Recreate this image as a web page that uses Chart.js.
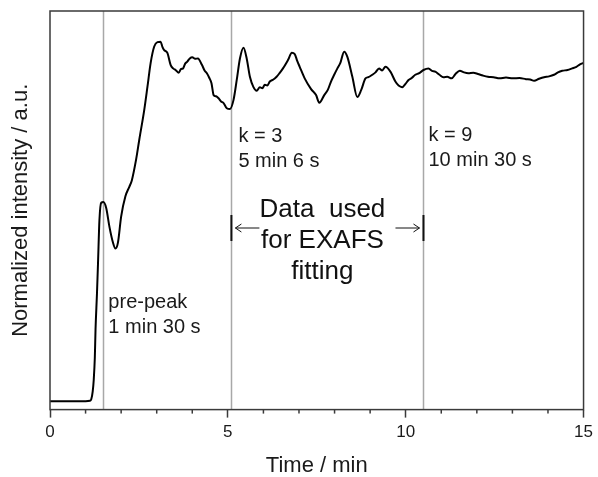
<!DOCTYPE html>
<html>
<head>
<meta charset="utf-8">
<title>Normalized intensity vs time</title>
<script src="https://cdn.jsdelivr.net/npm/chart.js@4/dist/chart.umd.min.js"></script>
<style>
  html, body { margin: 0; padding: 0; background: #fff; }
  #wrap { width: 598px; height: 477px; position: relative; }
</style>
</head>
<body>
<div id="wrap"><canvas id="myChart"></canvas></div>
<script>
// Time axis (min) and normalized intensity (a.u., 0-100 scale)
const times = [
  0, 0.5, 1.0, 1.12, 1.16, 1.2, 1.23, 1.26, 1.28, 1.32, 1.35, 1.39, 1.44, 1.5,
  1.58, 1.67, 1.77, 1.84, 1.91, 2.0, 2.12, 2.23, 2.3, 2.42, 2.51, 2.65, 2.74,
  2.83, 2.93, 3.02, 3.11, 3.16, 3.21, 3.3, 3.39, 3.46, 3.53, 3.62, 3.68, 3.74,
  3.8, 3.86, 3.93, 4.0, 4.08, 4.16, 4.27, 4.35, 4.41, 4.48, 4.54, 4.6, 4.67,
  4.74, 4.81, 4.88, 4.97, 5.06, 5.16, 5.25, 5.34, 5.44, 5.53, 5.62, 5.72, 5.81,
  5.9, 5.97, 6.04, 6.11, 6.18, 6.28, 6.37, 6.46, 6.55, 6.69, 6.8, 6.88, 6.95,
  7.02, 7.16, 7.34, 7.48, 7.57, 7.71, 7.81, 7.9, 7.99, 8.08, 8.16, 8.27, 8.36,
  8.5, 8.64, 8.75, 8.87, 8.95, 9.06, 9.15, 9.25, 9.34, 9.43, 9.57, 9.71, 9.8,
  9.9, 10.0, 10.08, 10.17, 10.27, 10.38, 10.5, 10.64, 10.74, 10.83, 10.95,
  11.06, 11.17, 11.29, 11.4, 11.52, 11.64, 11.76, 11.9, 12.03, 12.17, 12.31,
  12.47, 12.64, 12.82, 13.01, 13.2, 13.38, 13.5, 13.61, 13.75, 13.89, 14.03,
  14.17, 14.28, 14.4, 14.55, 14.68, 14.8, 14.9, 15.0
];
const intensity = [
  2.1, 2.1, 2.1, 2.2, 2.6, 4.5, 7.5, 13, 20.1, 29, 36.8, 47.6, 51.9, 52.1,
  50.6, 45.9, 41.9, 40.4, 41.9, 48.4, 53.5, 55.9, 57.5, 62.7, 67.7, 75.2, 81.0,
  87.0, 91.1, 92.2, 92.3, 91.0, 90.2, 89.5, 86.5, 85.6, 85.2, 84.5, 85.4, 85.6,
  86.8, 87.3, 88.1, 88.4, 88.0, 88.1, 86.5, 85.0, 84.4, 83.2, 81.9, 78.9, 78.6,
  78.1, 77.3, 76.9, 75.6, 75.4, 77.7, 82.7, 88.1, 90.8, 88.1, 83.5, 80.9, 80.0,
  80.9, 80.6, 81.5, 81.3, 82.3, 82.8, 83.5, 84.5, 85.6, 87.7, 89.5, 89.2, 87.5,
  86.0, 83.1, 80.4, 78.9, 77.0, 78.9, 80.2, 82.3, 84.0, 85.6, 86.9, 89.8, 88.5,
  83.5, 78.4, 80.2, 83.1, 83.4, 84.0, 84.6, 85.6, 85.1, 86.0, 84.8, 82.3, 81.3,
  80.9, 81.8, 82.7, 83.2, 84.0, 84.4, 85.2, 85.6, 85.0, 84.8, 84.0,
  83.4, 83.5, 83.1, 84.2, 85.0, 84.6, 84.4, 84.5, 84.2, 83.8, 83.5,
  83.4, 83.1, 83.3, 83.1, 83.2, 82.9, 82.8, 82.5, 83.0, 83.4, 83.6,
  84.0, 84.6, 85.0, 85.2, 85.6, 86.0, 86.6, 87.0
];

// Marked times (min) and their labels
const markTimes = [1.5, 5.1, 10.5];
const markLabels = [
  ['pre-peak', '1 min 30 s'],
  ['k = 3', '5 min 6 s'],
  ['k = 9', '10 min 30 s']
];
const fitLabel = ['Data  used', 'for EXAFS', 'fitting'];
const xTicks = [0, 5, 10, 15];

const FONT = "'Liberation Sans', Arial, Helvetica, sans-serif";
Chart.defaults.font.family = FONT;

const points = times.map((t, i) => ({ x: t, y: intensity[i] }));

// Frame, marker lines, minor ticks and text annotations
const decorations = {
  id: 'decorations',
  beforeDatasetsDraw(chart) {
    const { ctx, chartArea: a, scales: { x } } = chart;
    ctx.save();
    ctx.strokeStyle = '#a8a8a8';
    ctx.lineWidth = 1.5;
    markTimes.forEach(t => {
      const px = Math.round(x.getPixelForValue(t)) + 0.5;
      ctx.beginPath();
      ctx.moveTo(px, a.top);
      ctx.lineTo(px, a.bottom);
      ctx.stroke();
    });
    ctx.restore();
  },
  afterDraw(chart) {
    const { ctx, chartArea: a, scales: { x } } = chart;
    ctx.save();

    // box around the plot
    ctx.strokeStyle = '#3a3a3a';
    ctx.lineWidth = 1.5;
    ctx.strokeRect(a.left, a.top, a.right - a.left, a.bottom - a.top);

    // short minor ticks
    ctx.lineWidth = 1.5;
    for (let v = 0; v <= 15; v++) {
      if (xTicks.includes(v)) continue;
      const px = x.getPixelForValue(v);
      ctx.beginPath();
      ctx.moveTo(px, a.bottom);
      ctx.lineTo(px, a.bottom + 4);
      ctx.stroke();
    }

    // y axis title
    ctx.fillStyle = '#1a1a1a';
    ctx.font = '22px ' + FONT;
    ctx.textAlign = 'center';
    ctx.textBaseline = 'middle';
    ctx.translate(21, (a.top + a.bottom) / 2);
    ctx.rotate(-Math.PI / 2);
    ctx.fillText('Normalized intensity / a.u.', 0, 0);
    ctx.setTransform(1, 0, 0, 1, 0, 0);

    // marker labels
    ctx.font = '20px ' + FONT;
    ctx.textAlign = 'left';
    ctx.textBaseline = 'alphabetic';
    const offsets = [5, 7, 5];
    const baselines = [308, 142, 141];
    markTimes.forEach((t, i) => {
      const px = x.getPixelForValue(t) + offsets[i];
      markLabels[i].forEach((s, j) => ctx.fillText(s, px, baselines[i] + j * 25));
    });

    // fitting range: bars, arrows, text
    const x1 = x.getPixelForValue(markTimes[1]);
    const x2 = x.getPixelForValue(markTimes[2]);
    const ay = 228;
    ctx.strokeStyle = '#111';
    ctx.lineWidth = 2;
    [x1, x2].forEach(px => {
      ctx.beginPath();
      ctx.moveTo(px, ay - 13);
      ctx.lineTo(px, ay + 13);
      ctx.stroke();
    });
    ctx.lineWidth = 1;
    const arrow = (from, to) => {
      const dir = Math.sign(to - from);
      ctx.beginPath();
      ctx.moveTo(from, ay);
      ctx.lineTo(to, ay);
      ctx.moveTo(to - dir * 6, ay - 4);
      ctx.lineTo(to, ay);
      ctx.lineTo(to - dir * 6, ay + 4);
      ctx.stroke();
    };
    arrow(x1 + 28, x1 + 4);
    arrow(x2 - 28, x2 - 4);

    ctx.fillStyle = '#111';
    ctx.font = '26px ' + FONT;
    ctx.textAlign = 'center';
    const cx = (x1 + x2) / 2 - 5;
    fitLabel.forEach((s, j) => ctx.fillText(s, cx, 217 + j * 31));

    ctx.restore();
  }
};

const chartConfig = {
  type: 'line',
  data: {
    datasets: [{
      data: points,
      borderColor: '#000',
      borderWidth: 2,
      pointRadius: 0,
      cubicInterpolationMode: 'monotone',
      fill: false
    }]
  },
  plugins: [decorations],
  options: {
    responsive: true,
    maintainAspectRatio: false,
    animation: false,
    layout: { padding: { left: 50, right: 11, top: 11, bottom: 0 } },
    plugins: {
      legend: { display: false },
      tooltip: { enabled: false }
    },
    scales: {
      x: {
        type: 'linear',
        min: 0,
        max: 15,
        afterBuildTicks: axis => {
          axis.ticks = Array.from({ length: 16 }, (_, i) => ({ value: i }));
        },
        ticks: {
          autoSkip: false,
          maxRotation: 0,
          padding: 5,
          color: '#1a1a1a',
          font: { size: 17 },
          callback: v => (xTicks.includes(v) ? String(v) : '')
        },
        grid: {
          drawOnChartArea: false,
          tickLength: 8,
          tickWidth: 1.5,
          tickColor: c => (c.tick && xTicks.includes(c.tick.value) ? '#3a3a3a' : 'rgba(0,0,0,0)')
        },
        border: { display: false },
        title: {
          display: true,
          text: 'Time / min',
          color: '#1a1a1a',
          font: { size: 22, lineHeight: 1.0 },
          padding: { top: 7, bottom: 0 }
        }
      },
      y: {
        display: false,
        min: 0,
        max: 100
      }
    }
  }
};

new Chart(document.getElementById('myChart'), chartConfig);
</script>
</body>
</html>
